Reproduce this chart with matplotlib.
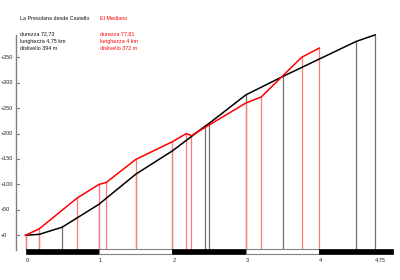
import matplotlib
matplotlib.use("Agg")
import matplotlib.pyplot as plt
from matplotlib.patches import Rectangle

# Data
black_km = [0, 0.19, 0.50, 1.0, 1.5, 2.0, 2.45, 2.50, 3.0, 3.5, 4.5, 4.76]
black_h = [0, 2, 16, 61, 120, 166, 215, 220, 276, 312, 381, 394]
red_km = [0, 0.19, 0.70, 1.0, 1.10, 1.50, 2.0, 2.19, 2.26, 3.0, 3.21, 3.76, 4.0]
red_h = [0, 13, 73, 100, 104, 149, 184, 200, 196, 260, 272, 350, 368]
y_ticks = [0, 50, 100, 150, 200, 250, 300, 350]
x_ticks = [0, 1, 2, 3, 4, 4.75]
x_labels = ["0", "1", "2", "3", "4", "4,75"]
title1 = "La Presolana desde Castello"
info1 = ["durezza 72,73", "lunghezza 4,75 km", "dislivello 394 m"]
title2 = "El Mediano"
info2 = ["durezza 77,81", "lunghezza 4 km", "dislivello 372 m"]

W, H = 400, 280
x0, sx = 25.5, 73.45
y0, sy = 235.3, 0.5087

fig = plt.figure(figsize=(4, 2.8), dpi=100)
ax = fig.add_axes([0, 0, 1, 1])
ax.set_xlim(-x0 / sx, (W - x0) / sx)
ax.set_ylim((y0 - H) / sy, y0 / sy)
ax.axis("off")

def py(p):  # pixel-from-top -> data y
    return (y0 - p) / sy

def px(p):
    return (p - x0) / sx

bar_top = py(249.3)
bar_bot = py(254.3)
FONT = "Liberation Sans"

# vertical drop lines
for k, h in zip(black_km, black_h):
    ax.plot([k, k], [bar_top, h], color="#707070", lw=0.9, zorder=2)
for k, h in zip(red_km, red_h):
    ax.plot([k, k], [bar_top, h], color="#ff7a7a", lw=0.9, zorder=3)

ax.plot(black_km, black_h, color="black", lw=1.1, zorder=4)
ax.plot(red_km, red_h, color="#ff0000", lw=1.1, zorder=5)

# scale bar
for i in range(5):
    if i % 2 == 0:
        ax.add_patch(Rectangle((i, bar_bot), 1, bar_top - bar_bot, facecolor="black",
                               edgecolor="black", lw=0.5, zorder=3))
    else:
        ax.add_patch(Rectangle((i, bar_bot), 1, bar_top - bar_bot, facecolor="white",
                               edgecolor="#808080", lw=0.8, zorder=3))

for t, lab in zip(x_ticks, x_labels):
    ax.text(t, py(260), lab, fontsize=4.0, family=FONT, ha="left",
            va="center", color="#222222")

# y axis
ax.plot([px(16), px(16)], [py(35), py(250)], color="#808080", lw=1.0)
for t in y_ticks:
    ax.plot([px(16), px(19)], [t, t], color="#808080", lw=0.8)
    ax.text(px(0.5), t, "+%d" % t, fontsize=4.0, family=FONT,
            ha="left", va="center", color="#222222")

# texts
ax.text(px(20), py(18), title1, fontsize=3.9, family=FONT,
        ha="left", va="center", color="#111111")
ax.text(px(100), py(18), title2, fontsize=3.9, family=FONT,
        ha="left", va="center", color="#ff0000")
for i, (a, b) in enumerate(zip(info1, info2)):
    yy = py(33.5 + 7.5 * i)
    ax.text(px(20), yy, a, fontsize=3.9, family=FONT,
            ha="left", va="center", color="#111111")
    ax.text(px(100), yy, b, fontsize=3.9, family=FONT,
            ha="left", va="center", color="#ff0000")

fig.savefig("out.png", dpi=100)
